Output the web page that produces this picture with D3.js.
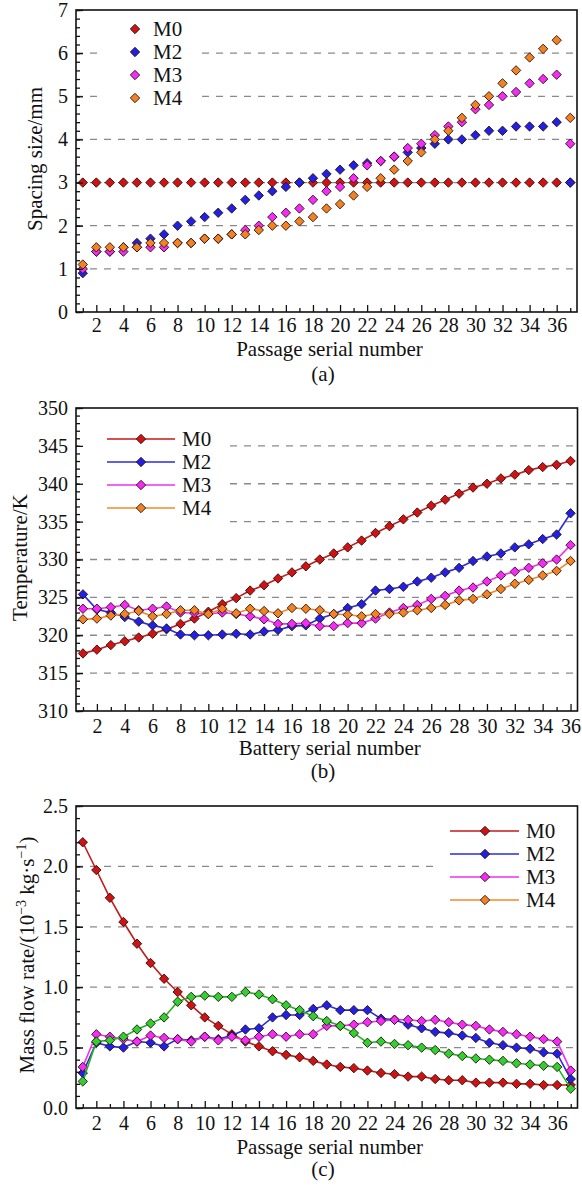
<!DOCTYPE html>
<html><head><meta charset="utf-8">
<script src="https://cdn.jsdelivr.net/npm/d3@7"></script>
<style>
body{margin:0;background:#fff}
text{font-family:"Liberation Serif","Times New Roman",serif;fill:#111}
</style>
</head><body>
<svg id="chart" width="582" height="1187"></svg>
<script>
// ---------- DATA ----------
const seriesNames = ["M0", "M2", "M3", "M4"];

// (a) Spacing size / mm, passages 1..37
const a_x = [1,2,3,4,5,6,7,8,9,10,11,12,13,14,15,16,17,18,19,20,21,22,23,24,25,26,27,28,29,30,31,32,33,34,35,36,37];
const a_M0 = [3,3,3,3,3,3,3,3,3,3,3,3,3,3,3,3,3,3,3,3,3,3,3,3,3,3,3,3,3,3,3,3,3,3,3,3,3];
const a_M2 = [0.9,1.4,1.4,1.5,1.6,1.7,1.8,2.0,2.1,2.2,2.3,2.4,2.6,2.7,2.8,2.9,3.0,3.1,3.2,3.3,3.4,3.45,3.5,3.6,3.7,3.8,3.9,4.0,4.0,4.1,4.2,4.2,4.3,4.3,4.3,4.4,3.0];
const a_M3 = [1.0,1.4,1.4,1.4,1.5,1.5,1.5,1.6,1.6,1.7,1.7,1.8,1.9,2.0,2.2,2.3,2.4,2.6,2.8,2.9,3.1,3.4,3.5,3.6,3.8,3.9,4.1,4.3,4.4,4.7,4.8,5.0,5.1,5.3,5.4,5.5,3.9];
const a_M4 = [1.1,1.5,1.5,1.5,1.5,1.6,1.6,1.6,1.6,1.7,1.7,1.8,1.8,1.9,2.0,2.0,2.1,2.2,2.4,2.5,2.7,2.9,3.1,3.3,3.5,3.7,4.0,4.2,4.5,4.8,5.0,5.3,5.6,5.9,6.1,6.3,4.5];
const a_yTicks = [0,1,2,3,4,5,6,7];
const a_grid = [1,2,3,4,5,6];

// (b) Temperature / K, batteries 1..36
const b_x = [1,2,3,4,5,6,7,8,9,10,11,12,13,14,15,16,17,18,19,20,21,22,23,24,25,26,27,28,29,30,31,32,33,34,35,36];
const b_M0 = [317.6,318.1,318.7,319.2,319.7,320.2,320.8,321.5,322.2,323.1,324.1,324.9,325.9,326.6,327.5,328.3,329.1,330.0,330.8,331.6,332.5,333.5,334.4,335.3,336.2,337.1,337.9,338.7,339.5,340.0,340.7,341.2,341.8,342.2,342.5,343.0];
const b_M2 = [325.4,323.4,323.0,322.4,321.8,321.3,320.9,320.1,320.0,320.0,320.1,320.2,320.1,320.5,320.7,321.2,321.3,322.2,322.8,323.6,324.1,325.9,326.1,326.4,327.1,327.6,328.3,328.9,329.8,330.4,330.8,331.6,332.0,332.7,333.3,336.1];
const b_M3 = [323.5,323.5,323.7,324.0,323.3,323.5,323.8,323.0,322.9,322.8,323.0,322.8,322.5,322.1,321.5,321.5,321.6,321.2,321.2,321.6,321.6,322.2,323.0,323.6,324.0,324.8,325.2,325.9,326.3,327.1,327.9,328.4,328.9,329.5,330.0,331.9];
const b_M4 = [322.1,322.2,322.6,322.8,323.2,322.5,322.8,323.3,323.3,322.8,323.5,322.9,323.5,323.2,322.9,323.6,323.5,323.3,322.8,322.7,322.5,322.8,322.8,323.0,323.3,323.6,324.0,324.6,324.8,325.4,326.1,326.8,327.3,327.9,328.5,329.8];
const b_yTicks = [310,315,320,325,330,335,340,345,350];
const b_grid = [315,320,325,330,335,340,345];

// (c) Mass flow rate / (10^-3 kg·s^-1), passages 1..37
const c_x = a_x;
const c_M0 = [2.20,1.97,1.74,1.54,1.36,1.20,1.07,0.96,0.85,0.75,0.68,0.61,0.55,0.51,0.47,0.44,0.42,0.39,0.36,0.34,0.33,0.31,0.29,0.28,0.26,0.26,0.24,0.23,0.23,0.21,0.21,0.21,0.20,0.20,0.19,0.19,0.19];
const c_M2 = [0.29,0.54,0.51,0.50,0.55,0.54,0.51,0.57,0.56,0.59,0.57,0.60,0.65,0.66,0.75,0.77,0.77,0.82,0.85,0.81,0.81,0.81,0.74,0.73,0.69,0.66,0.63,0.62,0.60,0.58,0.54,0.52,0.50,0.49,0.46,0.45,0.24];
const c_M3 = [0.34,0.61,0.59,0.57,0.55,0.60,0.58,0.57,0.55,0.59,0.56,0.59,0.56,0.59,0.61,0.59,0.61,0.61,0.68,0.68,0.69,0.71,0.72,0.73,0.73,0.72,0.73,0.71,0.69,0.68,0.65,0.63,0.61,0.59,0.57,0.55,0.31];
const c_M4 = [0.22,0.55,0.56,0.59,0.65,0.70,0.75,0.88,0.92,0.93,0.92,0.92,0.96,0.94,0.90,0.85,0.81,0.76,0.72,0.68,0.62,0.54,0.55,0.53,0.52,0.50,0.48,0.45,0.43,0.41,0.40,0.39,0.37,0.36,0.35,0.34,0.16];
const c_yTicks = [0.0,0.5,1.0,1.5,2.0,2.5];
const c_grid = [0.5,1.0,1.5,2.0];

// ---------- STYLE ----------
const fills = {M0:"#d01212", M2:"#2121e6", M3:"#f52cf5", M4:"#f28322"};
const lineCols = {M0:"#c41a1a", M2:"#2a2ae0", M3:"#f030f0", M4:"#f08a2a"};
const greenFill = "#2fd02f", greenLine = "#22b322";

const svg = d3.select("#chart");
const diamond = r => `M0,${-r}L${r},0L0,${r}L${-r},0Z`;

function drawPanel(p) {
  const g = svg.append("g");
  const x = d3.scaleLinear().domain(p.xDomain).range([p.left, p.right]);
  const y = d3.scaleLinear().domain(p.yDomain).range([p.bottom, p.top]);

  // grid
  g.append("g").selectAll("line").data(p.grid).join("line")
    .attr("x1", p.left).attr("x2", p.right)
    .attr("y1", d => y(d)).attr("y2", d => y(d))
    .attr("stroke", "#8a8a8a").attr("stroke-width", 1.3)
    .attr("stroke-dasharray", "7,7");

  // legend background (masks grid)
  g.append("rect").attr("x", p.legBox[0]).attr("y", p.legBox[1])
    .attr("width", p.legBox[2]).attr("height", p.legBox[3]).attr("fill", "#fff");

  // series
  p.series.forEach(s => {
    if (p.lines) {
      g.append("path").datum(s.values)
        .attr("fill", "none").attr("stroke", s.line).attr("stroke-width", 1.6)
        .attr("d", d3.line().x((d, i) => x(p.xs[i])).y(d => y(d)));
    }
    g.append("g").selectAll("path").data(s.values).join("path")
      .attr("transform", (d, i) => `translate(${x(p.xs[i])},${y(d)})`)
      .attr("d", diamond(4.7))
      .attr("fill", s.fill).attr("stroke", "#2a1010").attr("stroke-width", 0.9);
  });

  // frame
  g.append("rect").attr("x", p.left).attr("y", p.top)
    .attr("width", p.right - p.left).attr("height", p.bottom - p.top)
    .attr("fill", "none").attr("stroke", "#111").attr("stroke-width", 1.6);

  // x axis
  const xMaj = p.xs.filter(v => v % 2 === 0);
  const xMin = p.xs.filter(v => v % 2 === 1);
  const xa = g.append("g").attr("transform", `translate(0,${p.bottom})`)
    .call(d3.axisBottom(x).tickValues(xMaj).tickSize(-7).tickPadding(p.xPad).tickFormat(d3.format("d")));
  const xb = g.append("g").attr("transform", `translate(0,${p.bottom})`)
    .call(d3.axisBottom(x).tickValues(xMin).tickSize(-4).tickFormat(""));
  // y axis
  const ya = g.append("g").attr("transform", `translate(${p.left},0)`)
    .call(d3.axisLeft(y).tickValues(p.yTicks).tickSize(-7).tickPadding(8).tickFormat(p.yFmt));
  const yb = g.append("g").attr("transform", `translate(${p.left},0)`)
    .call(d3.axisLeft(y).tickValues(p.yMinor).tickSize(-4).tickFormat(""));
  [xa, xb, ya, yb].forEach(a => {
    a.select(".domain").remove();
    a.selectAll("line").attr("stroke", "#111").attr("stroke-width", 1.3);
    a.selectAll("text").attr("font-size", 20).attr("fill", "#111")
      .style("font-family", '"Liberation Serif","Times New Roman",serif');
  });

  // titles
  g.append("text").attr("x", (p.left + p.right) / 2 + 3).attr("y", p.xTitleY)
    .attr("text-anchor", "middle").attr("font-size", 21).text(p.xTitle);
  g.append("text").attr("x", 323).attr("y", p.capY)
    .attr("text-anchor", "middle").attr("font-size", 21).text(p.caption);
  const yt = g.append("text")
    .attr("transform", `translate(${p.yTitleX},${(p.top + p.bottom) / 2 - 2}) rotate(-90)`)
    .attr("text-anchor", "middle").attr("font-size", 21);
  p.yTitle(yt);

  // legend
  const lg = g.append("g");
  seriesNames.forEach((n, i) => {
    const ly = p.legRows[i];
    if (p.lines) {
      lg.append("line").attr("x1", p.legLine[0]).attr("x2", p.legLine[1])
        .attr("y1", ly).attr("y2", ly).attr("stroke", lineCols[n]).attr("stroke-width", 1.6);
    }
    lg.append("path").attr("transform", `translate(${p.legMarkX},${ly})`)
      .attr("d", diamond(4.7)).attr("fill", fills[n])
      .attr("stroke", "#2a1010").attr("stroke-width", 0.9);
    lg.append("text").attr("x", p.legTextX).attr("y", ly).attr("dy", "0.35em")
      .attr("font-size", 21).text(n);
  });
}

const rng = (a, b, s) => { const out = []; for (let v = a; v <= b + 1e-9; v += s) out.push(+v.toFixed(3)); return out; };

// (a)
drawPanel({
  left: 76, right: 577, top: 10, bottom: 312,
  xDomain: [0.5, 37.5], yDomain: [0, 7], xs: a_x, xPad: 6,
  series: [
    {values: a_M0, fill: fills.M0}, {values: a_M2, fill: fills.M2},
    {values: a_M3, fill: fills.M3}, {values: a_M4, fill: fills.M4}],
  lines: false, grid: a_grid, yTicks: a_yTicks, yMinor: rng(0, 7, 0.2), yFmt: d3.format("d"),
  xTitle: "Passage serial number", xTitleY: 356, caption: "(a)", capY: 381,
  yTitleX: 42, yTitle: t => t.text("Spacing size/mm"),
  legBox: [103, 14, 92, 96], legRows: [29, 52, 75, 98], legMarkX: 135, legTextX: 153
});

// (b)
drawPanel({
  left: 76, right: 577.5, top: 408, bottom: 711,
  xDomain: [0.5, 36.5], yDomain: [310, 350], xs: b_x, xPad: 8,
  series: [
    {values: b_M0, fill: fills.M0, line: lineCols.M0}, {values: b_M2, fill: fills.M2, line: lineCols.M2},
    {values: b_M3, fill: fills.M3, line: lineCols.M3}, {values: b_M4, fill: fills.M4, line: lineCols.M4}],
  lines: true, grid: b_grid, yTicks: b_yTicks, yMinor: rng(310, 350, 1), yFmt: d3.format("d"),
  xTitle: "Battery serial number", xTitleY: 755, caption: "(b)", capY: 778,
  yTitleX: 27, yTitle: t => t.text("Temperature/K"),
  legBox: [78, 424, 150, 104], legRows: [439, 462, 485, 508], legLine: [107, 175], legMarkX: 141, legTextX: 182
});

// (c)
drawPanel({
  left: 76, right: 577.5, top: 806, bottom: 1108,
  xDomain: [0.5, 37.5], yDomain: [0, 2.5], xs: c_x, xPad: 8,
  series: [
    {values: c_M0, fill: fills.M0, line: lineCols.M0}, {values: c_M2, fill: fills.M2, line: lineCols.M2},
    {values: c_M3, fill: fills.M3, line: lineCols.M3}, {values: c_M4, fill: greenFill, line: greenLine}],
  lines: true, grid: c_grid, yTicks: c_yTicks, yMinor: rng(0, 2.5, 0.1), yFmt: d3.format(".1f"),
  xTitle: "Passage serial number", xTitleY: 1154, caption: "(c)", capY: 1176,
  yTitleX: 34, yTitle: t => {
    t.append("tspan").text("Mass flow rate/(10");
    t.append("tspan").attr("font-size", 14).attr("dy", -8).text("\u22123");
    t.append("tspan").attr("dy", 8).text(" kg\u00b7s");
    t.append("tspan").attr("font-size", 14).attr("dy", -8).text("\u22121");
    t.append("tspan").attr("dy", 8).text(")");
  },
  legBox: [437, 814, 139, 102], legRows: [831, 854, 877, 900], legLine: [450, 519], legMarkX: 485, legTextX: 526
});
</script>
</body></html>
